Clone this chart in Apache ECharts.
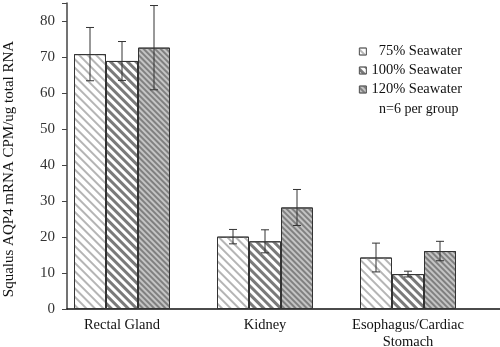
<!DOCTYPE html>
<html><head><meta charset="utf-8">
<script src="https://cdn.jsdelivr.net/npm/echarts@6/dist/echarts.min.js"></script>
<style>html,body{margin:0;padding:0;background:#fff}#c{width:500px;height:347px}</style>
</head><body><div id="c"></div>
<script>
var categories = ['Rectal Gland', 'Kidney', 'Esophagus/Cardiac\nStomach'];
var seriesNames = ['75% Seawater', '100% Seawater', '120% Seawater'];
var sw75 = [70.8, 20.1, 14.3];
var sw100 = [68.9, 18.8, 9.7];
var sw120 = [72.6, 28.2, 16.1];
var err75 = [7.4, 2.0, 4.0];
var err100 = [5.4, 3.2, 0.8];
var err120 = [11.7, 5.0, 2.7];
var yTicks = [0, 10, 20, 30, 40, 50, 60, 70, 80];
var yMax = 85;
var noteText = 'n=6 per group';
var yName = 'Squalus AQP4 mRNA CPM/ug total RNA';

var means = [sw75, sw100, sw120];
var errs = [err75, err100, err120];
var font = 'Liberation Serif';
var BW = 32;
var decals = [
  {symbol:'rect', symbolSize:1, dashArrayX:[[1,0]], dashArrayY:[1.2,3.4], rotation:Math.PI/4, color:'#b5b5b5'},
  {symbol:'rect', symbolSize:1, dashArrayX:[[1,0]], dashArrayY:[2.2,2.4], rotation:Math.PI/4, color:'#7a7a7a'},
  {symbol:'rect', symbolSize:1, dashArrayX:[[1,0]], dashArrayY:[1.3,1.5], rotation:Math.PI/4, color:'#808080'}
];
var fills = ['#fff', '#fff', '#c4c4c4'];

var series = [];
for (var i = 0; i < 3; i++) {
  series.push({
    name: seriesNames[i], type: 'bar', xAxisIndex: 1, yAxisIndex: 1,
    data: means[i], barWidth: BW, barGap: '0%',
    itemStyle: {color: fills[i], borderColor: '#333', borderWidth: 1, decal: decals[i]},
    emphasis: {disabled: true}, z: 2
  });
}
for (var j = 0; j < 3; j++) {
  (function (si) {
    var d = means[si].map(function (m, k) { return [k, m - errs[si][k], m + errs[si][k]]; });
    series.push({
      type: 'custom', xAxisIndex: 1, yAxisIndex: 1, z: 5, silent: true,
      data: d,
      renderItem: function (params, api) {
        var c = api.value(0);
        var lo = api.coord([c, api.value(1)]);
        var hi = api.coord([c, api.value(2)]);
        var x = lo[0] + (si - 1) * BW;
        var cap = 4;
        var st = {stroke: '#333', lineWidth: 1};
        return {type: 'group', children: [
          {type: 'line', shape: {x1: x, y1: lo[1], x2: x, y2: hi[1]}, style: st},
          {type: 'line', shape: {x1: x - cap, y1: lo[1], x2: x + cap, y2: lo[1]}, style: st},
          {type: 'line', shape: {x1: x - cap, y1: hi[1], x2: x + cap, y2: hi[1]}, style: st}
        ]};
      }
    });
  })(j);
}

var chart = echarts.init(document.getElementById('c'), null, {renderer: 'canvas'});
chart.setOption({
  animation: false,
  backgroundColor: '#fff',
  aria: {enabled: false},
  title: {text: noteText, left: 374, top: 97, textStyle: {fontFamily: font, fontSize: 14, fontWeight: 'normal', color: '#111'}},
  legend: {
    orient: 'vertical', left: 354, top: 39, itemWidth: 7, itemHeight: 7, itemGap: 4,
    data: seriesNames, icon: 'rect',
    itemStyle: {borderWidth: 0.8, borderColor: '#555'},
    textStyle: {fontFamily: font, fontSize: 14.5, color: '#111'},
    formatter: function (n) { return n.indexOf('75') === 0 ? '\u2007' + n : n; }
  },
  grid: [
    {left: 67, right: 0, top: 3, bottom: 38, outerBoundsMode: 'none', containLabel: false},
    {left: 50.5, width: 429, top: 3, bottom: 38, outerBoundsMode: 'none', containLabel: false}
  ],
  xAxis: [
    {type: 'value', gridIndex: 0, min: 0, max: 1, axisLine: {show: true, lineStyle: {color: '#111', width: 1.5}},
     axisTick: {show: false}, axisLabel: {show: false}, splitLine: {show: false}},
    {type: 'category', gridIndex: 1, data: categories, axisLine: {show: false}, axisTick: {show: false},
     axisLabel: {interval: 0, fontFamily: font, fontSize: 14.5, color: '#111', margin: 8, lineHeight: 17}}
  ],
  yAxis: [
    {type: 'value', gridIndex: 0, min: 0, max: yMax, interval: 10,
     axisLine: {show: true, lineStyle: {color: '#444', width: 1.5}},
     axisTick: {show: true, length: 5, lineStyle: {color: '#444'}},
     axisLabel: {fontFamily: font, fontSize: 15, color: '#333', margin: 12,
       formatter: function (v) { return yTicks.indexOf(v) >= 0 ? String(v) : ''; }},
     splitLine: {show: false},
     name: yName, nameLocation: 'middle', nameGap: 50,
     nameTextStyle: {fontFamily: font, fontSize: 15, color: '#111', padding: [0, 26, 0, 0]}},
    {type: 'value', gridIndex: 1, min: 0, max: yMax, show: false}
  ],
  series: series
});
</script></body></html>
